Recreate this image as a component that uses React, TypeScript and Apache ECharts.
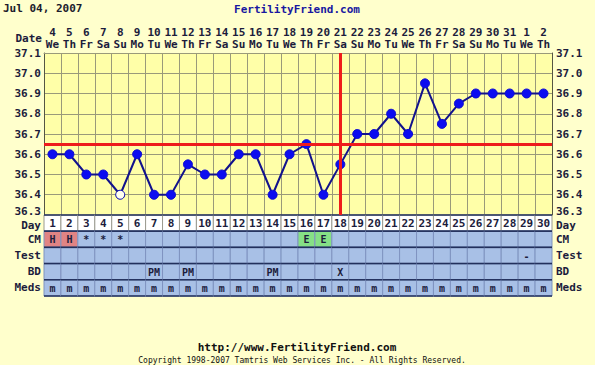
import React, { useEffect, useRef } from "react";
import * as echarts from "echarts";

const dayNumbers = ["1","2","3","4","5","6","7","8","9","10","11","12","13","14","15","16","17","18","19","20","21","22","23","24","25","26","27","28","29","30"];
const dateLabels = ["4","5","6","7","8","9","10","11","12","13","14","15","16","17","18","19","20","21","22","23","24","25","26","27","28","29","30","31","1","2"];
const weekdays = ["We","Th","Fr","Sa","Su","Mo","Tu","We","Th","Fr","Sa","Su","Mo","Tu","We","Th","Fr","Sa","Su","Mo","Tu","We","Th","Fr","Sa","Su","Mo","Tu","We","Th"];
const temps = [36.6,36.6,36.5,36.5,36.4,36.6,36.4,36.4,36.55,36.5,36.5,36.6,36.6,36.4,36.6,36.65,36.4,36.55,36.7,36.7,36.8,36.7,36.95,36.75,36.85,36.9,36.9,36.9,36.9,36.9];
const openDays = ["5"];
const coverline = 36.65;
const ovulationDay = "18";
const tempMin = 36.3;
const tempMax = 37.1;
const tempStep = 0.1;
const rowLabels = ["Day","CM","Test","BD","Meds"];
const cmValues = ["H","H","*","*","*","","","","","","","","","","","E","E","","","","","","","","","","","","",""];
const testValues = ["","","","","","","","","","","","","","","","","","","","","","","","","","","","","-",""];
const bdValues = ["","","","","","","PM","","PM","","","","","PM","","","","X","","","","","","","","","","","",""];
const medsValues = ["m","m","m","m","m","m","m","m","m","m","m","m","m","m","m","m","m","m","m","m","m","m","m","m","m","m","m","m","m","m"];

const FONT = '"DejaVu Sans Mono", monospace';
const TXT = "#1c1c3c";
const BLUE_CELL = "#a8c0e6";
const cmColor: Record<string, string> = { H: "#e08484", E: "#86e086" };

export default function App() {
  const ref = useRef<HTMLDivElement>(null);
  useEffect(() => {
    if (!ref.current) return;
    const chart = echarts.init(ref.current, null, { renderer: "svg" });
    const rows = [dayNumbers, cmValues, testValues, bdValues, medsValues];
    const cells: { x: number; y: number; text: string; fill: string }[] = [];
    rows.forEach((vals, r) => {
      vals.forEach((t, i) => {
        let fill = r === 0 ? "#ffffff" : BLUE_CELL;
        if (r === 1 && cmColor[t]) fill = cmColor[t];
        cells.push({ x: i, y: r, text: t, fill });
      });
    });
    const lineData = temps.map((v, i) =>
      openDays.includes(dayNumbers[i])
        ? { value: v, itemStyle: { color: "#ffffee", borderColor: "#0000b0", borderWidth: 1 } }
        : v
    );
    const labelStyle = { fontFamily: FONT, fontWeight: "bold" as const, fontSize: 11, color: TXT };
    const tempRich = {
      a: { ...labelStyle, lineHeight: 11 },
      s: { fontSize: 1, lineHeight: 8 },
    };
    const tempFmt = (v: number) =>
      Math.abs(v - tempMin) < 1e-6 ? `{a|${v.toFixed(1)}}\n{s|}` : `{a|${v.toFixed(1)}}`;
    const rowRich = {
      a: { ...labelStyle, lineHeight: 11 },
      s: { fontSize: 1, lineHeight: 4 },
    };
    const rowFmt = (v: string) => (v === rowLabels[0] ? `{s|}\n{a|${v}}` : `{a|${v}}`);
    chart.setOption({
      animation: false,
      backgroundColor: "#ffffcc",
      textStyle: { fontFamily: FONT },
      grid: [
        { left: 44, right: 43, top: 53, height: 162, show: true, backgroundColor: "#ffffa8", borderWidth: 0 },
        { left: 44, right: 43, top: 215, height: 81, show: false },
      ],
      xAxis: [
        {
          gridIndex: 0, type: "category", position: "top", data: dayNumbers, boundaryGap: true,
          axisLine: { show: true, lineStyle: { color: "#9a9a7a", type: "dotted" } },
          axisTick: { show: false },
          axisLabel: {
            interval: 0, margin: 3,
            formatter: (_v: string, i: number) => `{d|${dateLabels[i]}}\n{w|${weekdays[i]}}`,
            rich: {
              d: { ...labelStyle, lineHeight: 12 },
              w: { ...labelStyle, lineHeight: 12 },
            },
          },
          splitLine: { show: true, interval: 0, lineStyle: { color: "#9a9a7a", width: 1 } },
        },
        {
          gridIndex: 1, type: "category", data: dayNumbers, boundaryGap: true,
          axisLine: { show: false }, axisTick: { show: false }, axisLabel: { show: false }, splitLine: { show: false },
        },
      ],
      yAxis: [
        {
          gridIndex: 0, type: "value", position: "left", min: tempMin, max: tempMax, interval: tempStep,
          axisLine: { show: true, lineStyle: { color: "#555544" } }, axisTick: { show: false },
          axisLabel: { ...labelStyle, margin: 3, formatter: tempFmt, rich: tempRich },
          splitLine: { show: true, lineStyle: { color: "#9a9a7a", width: 1 } },
        },
        {
          gridIndex: 0, type: "value", position: "right", min: tempMin, max: tempMax, interval: tempStep,
          axisLine: { show: true, lineStyle: { color: "#555544" } }, axisTick: { show: false },
          axisLabel: { ...labelStyle, margin: 4, formatter: tempFmt, rich: tempRich },
          splitLine: { show: false },
        },
        {
          gridIndex: 1, type: "category", position: "left", data: rowLabels, inverse: true,
          axisLine: { show: false }, axisTick: { show: false },
          axisLabel: { ...labelStyle, margin: 3, formatter: rowFmt, rich: rowRich }, splitLine: { show: false },
        },
        {
          gridIndex: 1, type: "category", position: "right", data: rowLabels, inverse: true,
          axisLine: { show: false }, axisTick: { show: false },
          axisLabel: { ...labelStyle, margin: 4, formatter: rowFmt, rich: rowRich }, splitLine: { show: false },
        },
      ],
      graphic: [
        { type: "text", left: 3, top: 3, style: { text: "Jul 04, 2007", font: `bold 11px ${FONT}`, fill: "#1c1c2c" } },
        { type: "text", x: 297, y: 9, style: { text: "FertilityFriend.com", font: `bold 11px ${FONT}`, fill: "#1818a0", align: "center", verticalAlign: "middle" } },
        { type: "text", x: 42, y: 38, style: { text: "Date", font: `bold 11px ${FONT}`, fill: TXT, align: "right", verticalAlign: "middle" } },
        { type: "text", x: 297, y: 347, style: { text: "http://www.FertilityFriend.com", font: `bold 11px ${FONT}`, fill: "#111111", align: "center", verticalAlign: "middle" } },
        { type: "text", x: 302, y: 360, style: { text: "Copyright 1998-2007 Tamtris Web Services Inc. - All Rights Reserved.", font: `8px ${FONT}`, fill: "#111111", align: "center", verticalAlign: "middle" } },
      ],
      series: [
        {
          type: "line", xAxisIndex: 0, yAxisIndex: 0, data: lineData, symbol: "circle", symbolSize: 9,
          lineStyle: { color: "#12128c", width: 2 },
          itemStyle: { color: "#0c0cf0", borderColor: "#0c0cd0", borderWidth: 1 },
          z: 3,
          markLine: {
            silent: true, symbol: ["none", "none"], label: { show: false }, z: 6,
            lineStyle: { color: "#ee1c1c", width: 3, type: "solid" },
            data: [{ yAxis: coverline }, { xAxis: ovulationDay }],
          },
        },
        {
          type: "custom", xAxisIndex: 1, yAxisIndex: 2,
          data: cells.map((c) => [c.x, c.y]),
          renderItem: (params: any, api: any) => {
            const cell = cells[params.dataIndex];
            const c = api.coord([api.value(0), api.value(1)]);
            const s = api.size([1, 1]);
            const w = s[0], h = s[1];
            const l = c[0] - w / 2, t = c[1] - h / 2;
            const dark = "#22305c";
            return {
              type: "group",
              children: [
                { type: "rect", shape: { x: l, y: t, width: w, height: h }, style: { fill: cell.fill, stroke: cell.y === 0 ? "#9a9a90" : "#7f93c0", lineWidth: 1 } },
                { type: "line", shape: { x1: l, y1: t, x2: l + w, y2: t }, style: { stroke: dark, lineWidth: 1.5 } },
                { type: "line", shape: { x1: l, y1: t + h, x2: l + w, y2: t + h }, style: { stroke: dark, lineWidth: 1.5 } },
                { type: "text", style: { text: cell.text, x: c[0], y: c[1] + 0.5, align: "center", verticalAlign: "middle", font: `bold ${cell.y === 0 ? 11 : 10}px ${FONT}`, fill: TXT } },
              ],
            };
          },
        },
      ],
    });
    return () => chart.dispose();
  }, []);
  return <div ref={ref} style={{ position: "fixed", left: 0, top: 0, width: 595, height: 365 }} />;
}
